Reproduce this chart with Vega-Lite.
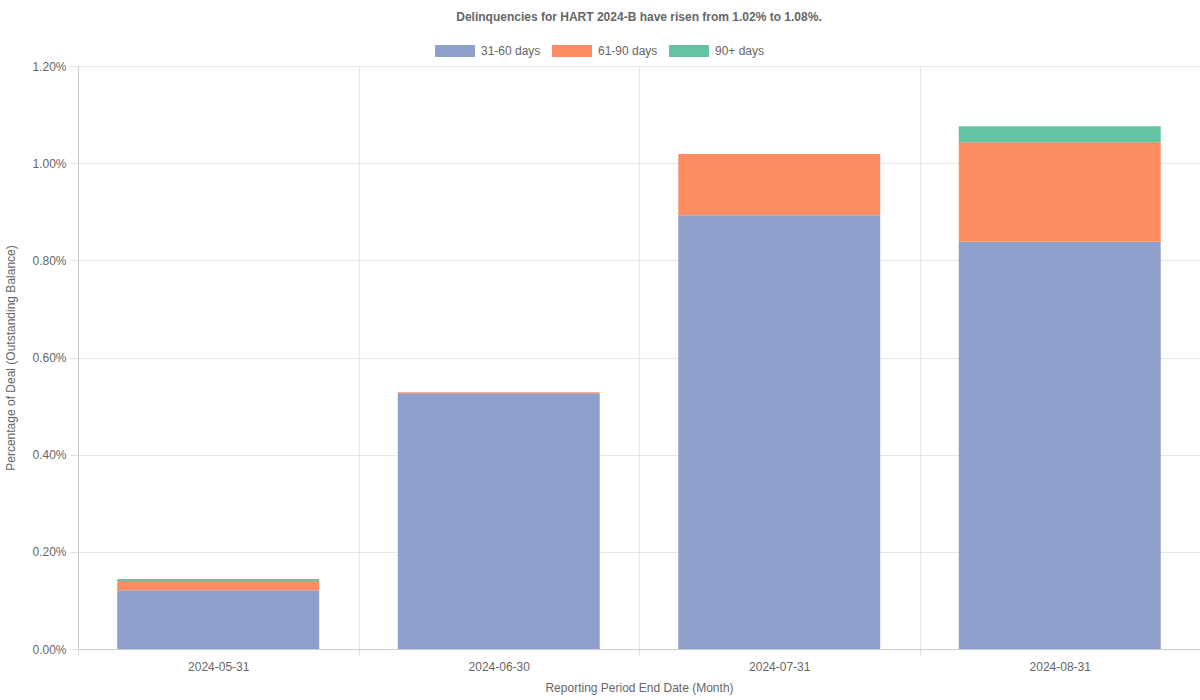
{
  "$schema": "https://vega.github.io/schema/vega-lite/v6.json",
  "autosize": {"type": "none"},
  "padding": {"left": 78, "top": 66, "right": 0, "bottom": 51},
  "width": 1122,
  "height": 583,
  "background": "#ffffff",
  "title": {
    "text": "Delinquencies for HART 2024-B have risen from 1.02% to 1.08%.",
    "anchor": "middle",
    "font": "Liberation Sans",
    "fontSize": 12,
    "fontWeight": "bold",
    "color": "#666666",
    "offset": 7
  },
  "data": {
    "values": [
      {"date": "2024-05-31", "series": "31-60 days", "value": 0.001208},
      {"date": "2024-05-31", "series": "61-90 days", "value": 0.000191},
      {"date": "2024-05-31", "series": "90+ days", "value": 0.000041},
      {"date": "2024-06-30", "series": "31-60 days", "value": 0.005263},
      {"date": "2024-06-30", "series": "61-90 days", "value": 0.000021},
      {"date": "2024-06-30", "series": "90+ days", "value": 0.0},
      {"date": "2024-07-31", "series": "31-60 days", "value": 0.008927},
      {"date": "2024-07-31", "series": "61-90 days", "value": 0.001263},
      {"date": "2024-07-31", "series": "90+ days", "value": 0.0},
      {"date": "2024-08-31", "series": "31-60 days", "value": 0.008384},
      {"date": "2024-08-31", "series": "61-90 days", "value": 0.002046},
      {"date": "2024-08-31", "series": "90+ days", "value": 0.00033}
    ]
  },
  "mark": {"type": "bar", "width": {"band": 0.72}},
  "encoding": {
    "x": {
      "field": "date",
      "type": "nominal",
      "scale": {"paddingInner": 0, "paddingOuter": 0},
      "axis": {
        "title": "Reporting Period End Date (Month)",
        "labelAngle": 0,
        "tickBand": "extent",
        "grid": true,
        "gridColor": "#e6e6e6",
        "domainColor": "#cccccc",
        "tickColor": "#e0e0e0",
        "tickSize": 6,
        "labelPadding": 6,
        "titlePadding": 10,
        "labelFont": "Liberation Sans",
        "titleFont": "Liberation Sans",
        "labelFontSize": 12,
        "titleFontSize": 12,
        "titleFontWeight": "normal",
        "labelColor": "#666666",
        "titleColor": "#666666"
      }
    },
    "y": {
      "field": "value",
      "type": "quantitative",
      "stack": "zero",
      "scale": {"domain": [0, 0.012]},
      "axis": {
        "title": "Percentage of Deal (Outstanding Balance)",
        "format": ".2%",
        "values": [0, 0.002, 0.004, 0.006, 0.008, 0.01, 0.012],
        "grid": true,
        "gridColor": "#e6e6e6",
        "domainColor": "#cccccc",
        "tickColor": "#e0e0e0",
        "tickSize": 8,
        "labelPadding": 4,
        "titlePadding": 14,
        "labelFont": "Liberation Sans",
        "titleFont": "Liberation Sans",
        "labelFontSize": 12,
        "titleFontSize": 12,
        "titleFontWeight": "normal",
        "labelColor": "#666666",
        "titleColor": "#666666"
      }
    },
    "color": {
      "field": "series",
      "type": "nominal",
      "scale": {
        "domain": ["31-60 days", "61-90 days", "90+ days"],
        "range": ["#8da0cb", "#fc8d62", "#66c2a5"]
      },
      "legend": {
        "title": null,
        "orient": "none",
        "direction": "horizontal",
        "legendX": 357,
        "legendY": -35,
        "symbolType": "M-1,-0.3H1V0.3H-1Z",
        "symbolSize": 1600,
        "symbolStrokeWidth": 0,
        "symbolOpacity": 1,
        "labelFont": "Liberation Sans",
        "labelFontSize": 12,
        "labelColor": "#666666",
        "labelOffset": 6,
        "columnPadding": 11
      }
    },
    "order": {"field": "series", "type": "nominal", "sort": "ascending"}
  },
  "config": {
    "view": {"stroke": null}
  }
}
